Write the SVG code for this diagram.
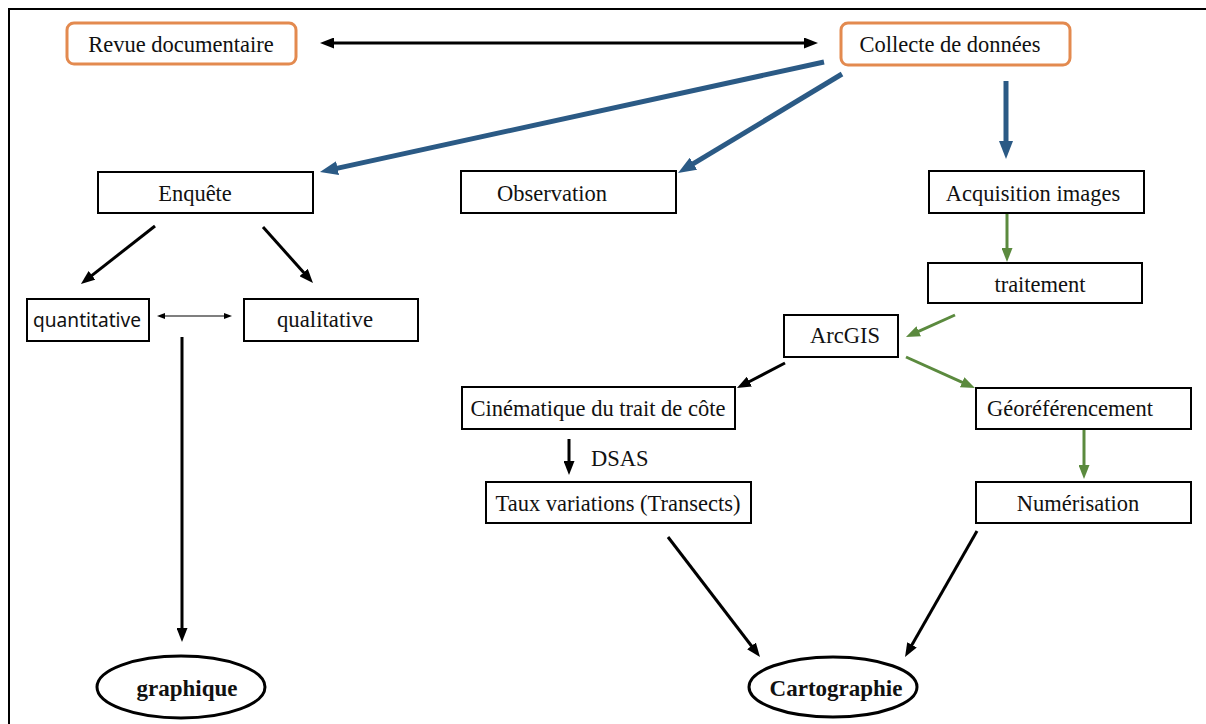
<svg xmlns="http://www.w3.org/2000/svg" width="1206" height="724" viewBox="0 0 1206 724">
<style>
.box{fill:#fff;stroke:#000;stroke-width:2}
.obox{fill:#fff;stroke:#e38a4f;stroke-width:3}
.ell{fill:#fff;stroke:#000;stroke-width:3}
.t{font-family:"Liberation Serif","Times New Roman",serif;font-size:22.5px;fill:#111}
.tb{font-family:"Liberation Serif","Times New Roman",serif;font-size:23px;font-weight:bold;fill:#111}
.ts{font-family:"Noto Sans","Open Sans",sans-serif;font-size:19px;fill:#111}
.blue{stroke:#2b5a85;stroke-width:5;fill:none}
.green{stroke:#5b8a3e;stroke-width:3;fill:none}
.black{stroke:#000;stroke-width:3;fill:none}
.thin{stroke:#000;stroke-width:1.2;fill:none}
</style>
<defs>
<marker id="hb" viewBox="-2 0 18 14" refX="0" refY="7" markerWidth="18" markerHeight="14" markerUnits="userSpaceOnUse" orient="auto"><path d="M-2,0 L16,7 L-2,14 z" fill="#2b5a85"/></marker>
<marker id="hg" viewBox="-2 0 14 11" refX="0" refY="5.5" markerWidth="14" markerHeight="11" markerUnits="userSpaceOnUse" orient="auto"><path d="M-2,0 L12,5.5 L-2,11 z" fill="#5b8a3e"/></marker>
<marker id="hk" viewBox="-2 0 14 11" refX="0" refY="5.5" markerWidth="14" markerHeight="11" markerUnits="userSpaceOnUse" orient="auto-start-reverse"><path d="M-2,0 L12,5.5 L-2,11 z" fill="#000"/></marker>
<marker id="hs" viewBox="-1 0 8 6" refX="0" refY="3" markerWidth="8" markerHeight="6" markerUnits="userSpaceOnUse" orient="auto-start-reverse"><path d="M-1,0 L7,3 L-1,6 z" fill="#000"/></marker>
</defs>
<rect x="9" y="9" width="1215" height="730" fill="#fff" stroke="#000" stroke-width="2"/>
<g id="connectors">
<path class="black" d="M332,43 L806,43" marker-start="url(#hk)" marker-end="url(#hk)"/>
<path class="blue" d="M824,62 L335.6,168.6" marker-end="url(#hb)"/>
<path class="blue" d="M842,74 L691.7,164.7" marker-end="url(#hb)"/>
<path class="blue" d="M1006,81 L1006,143" marker-end="url(#hb)"/>
<path class="green" d="M1007,213 L1007,250" marker-end="url(#hg)"/>
<path class="green" d="M955,315 L916.9,332.1" marker-end="url(#hg)"/>
<path class="green" d="M906,357 L964,383.1" marker-end="url(#hg)"/>
<path class="green" d="M1084,429 L1084,467" marker-end="url(#hg)"/>
<path class="black" d="M155,226 L90.4,276.6" marker-end="url(#hk)"/>
<path class="black" d="M263,227 L305,274" marker-end="url(#hk)"/>
<path class="thin" d="M164,316 L225,316" marker-start="url(#hs)" marker-end="url(#hs)"/>
<path class="black" d="M182,337 L182,630" marker-end="url(#hk)"/>
<path class="black" d="M785,363 L747.6,382.5" marker-end="url(#hk)"/>
<path class="black" d="M569,439 L569,463" marker-end="url(#hk)"/>
<path class="black" d="M668,537 L752.7,647.5" marker-end="url(#hk)"/>
<path class="black" d="M977,531 L911,646.6" marker-end="url(#hk)"/>
<text class="t" x="591" y="466">DSAS</text>
</g>
<g id="revue"><rect class="obox" x="67" y="23" width="229" height="41" rx="7"/><text class="t" x="181" y="52" text-anchor="middle">Revue documentaire</text></g>
<g id="collecte"><rect class="obox" x="841" y="23" width="229" height="42" rx="7"/><text class="t" x="950" y="52" text-anchor="middle">Collecte de données</text></g>
<g id="enquete"><rect class="box" x="98" y="172" width="215" height="41"/><text class="t" x="195" y="201" text-anchor="middle">Enquête</text></g>
<g id="observation"><rect class="box" x="461" y="171" width="215" height="42"/><text class="t" x="552" y="201" text-anchor="middle">Observation</text></g>
<g id="acquisition"><rect class="box" x="929" y="171" width="215" height="42"/><text class="t" x="1033" y="201" text-anchor="middle">Acquisition images</text></g>
<g id="traitement"><rect class="box" x="928" y="263" width="214" height="40"/><text class="t" x="1040" y="292" text-anchor="middle">traitement</text></g>
<g id="arcgis"><rect class="box" x="784" y="315" width="114" height="42"/><text class="t" x="845" y="343" text-anchor="middle">ArcGIS</text></g>
<g id="quantitative"><rect class="box" x="27" y="299" width="122" height="42"/><text class="ts" x="33" y="327" textLength="108" lengthAdjust="spacingAndGlyphs">quantitative</text></g>
<g id="qualitative"><rect class="box" x="244" y="299" width="174" height="42"/><text class="t" x="277" y="327" textLength="96" lengthAdjust="spacingAndGlyphs">qualitative</text></g>
<g id="cinematique"><rect class="box" x="462" y="387" width="273" height="42"/><text class="t" x="598" y="416" text-anchor="middle">Cinématique du trait de côte</text></g>
<g id="georef"><rect class="box" x="976" y="388" width="215" height="41"/><text class="t" x="1070" y="416" text-anchor="middle">Géoréférencement</text></g>
<g id="taux"><rect class="box" x="486" y="482" width="265" height="41"/><text class="t" x="618" y="511" text-anchor="middle">Taux variations (Transects)</text></g>
<g id="numerisation"><rect class="box" x="976" y="482" width="215" height="41"/><text class="t" x="1078" y="511" text-anchor="middle">Numérisation</text></g>
<g id="graphique"><ellipse class="ell" cx="181" cy="687" rx="84" ry="31"/><text class="tb" x="187" y="696" text-anchor="middle">graphique</text></g>
<g id="cartographie"><ellipse class="ell" cx="833" cy="687" rx="84" ry="30"/><text class="tb" x="836" y="696" text-anchor="middle">Cartographie</text></g>
</svg>
